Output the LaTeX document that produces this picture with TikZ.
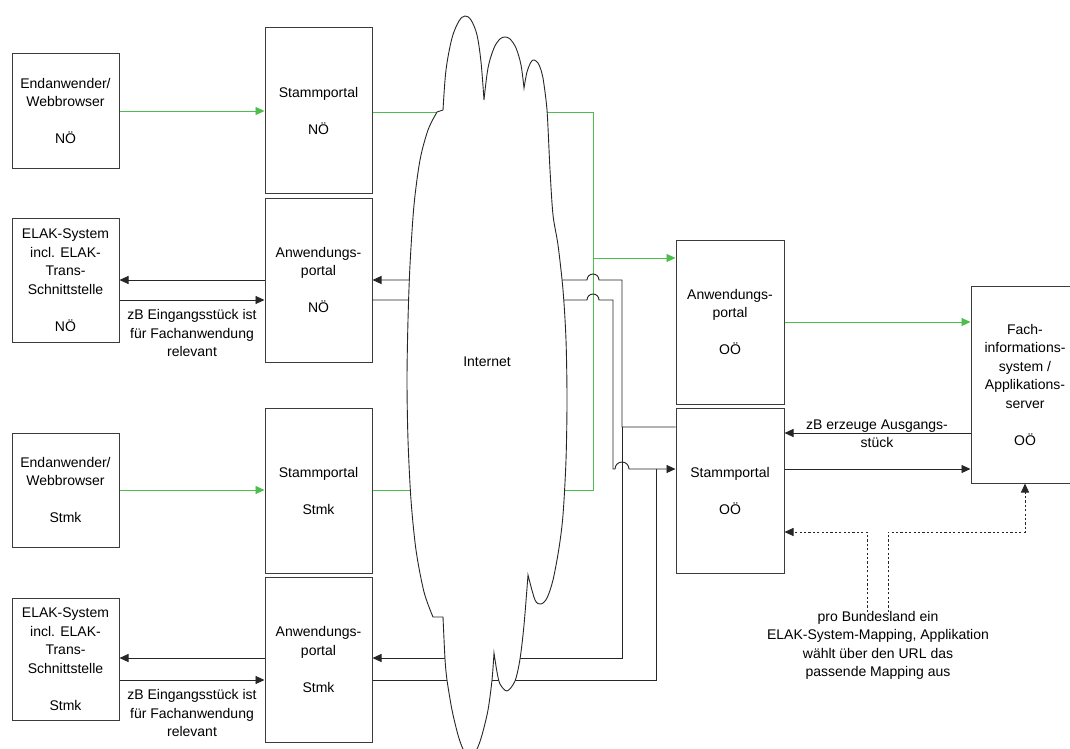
\documentclass[tikz,border=0pt]{standalone}
\usepackage{fontspec}
\setmainfont{Liberation Sans}
\usetikzlibrary{arrows.meta}
\definecolor{grn}{RGB}{76,190,76}
\definecolor{edge}{RGB}{60,60,60}
\tikzset{
  box/.style={draw=edge, line width=1pt, rectangle, inner sep=0pt, minimum width=107pt, align=center,
    font=\fontsize{14}{18.5}\selectfont},
  lbl/.style={inner sep=0pt, align=center, font=\fontsize{14}{18.5}\selectfont},
  blk/.style={draw=black!85, line width=0.9pt},
  gline/.style={draw=grn, line width=0.9pt},
  tip/.style={-{Triangle[length=9pt,width=8pt]}},
  dsh/.style={draw=black!85, line width=0.9pt, dash pattern=on 2.2pt off 2.2pt},
}
\begin{document}
\begin{tikzpicture}[x=1pt,y=-1pt]
\useasboundingbox (0,0) rectangle (1070,749);
\clip (0,0) rectangle (1070,749);
\fill[white] (0,0) rectangle (1070,749);

% left column boxes
\node[box, minimum height=114pt] (eNO) at (65.5,111) {Endanwender/\\Webbrowser\\[18.5pt]NÖ};
\node[box, minimum height=165pt] (sNO) at (318.5,110.5) {Stammportal\\[18.5pt]NÖ};
\node[box, minimum height=164pt] (aNO) at (318.5,280) {Anwendungs-\\portal\\[18.5pt]NÖ};
\node[box, minimum height=124pt] (elNO) at (65.5,280) {ELAK-System\\incl. ELAK-\\Trans-\\Schnittstelle\\[18.5pt]NÖ};

\node[box, minimum height=114pt] (eST) at (65.5,490) {Endanwender/\\Webbrowser\\[18.5pt]Stmk};
\node[box, minimum height=165pt] (sST) at (318.5,490.5) {Stammportal\\[18.5pt]Stmk};
\node[box, minimum height=165pt] (aST) at (318.5,659.5) {Anwendungs-\\portal\\[18.5pt]Stmk};
\node[box, minimum height=122pt] (elST) at (65.5,659) {ELAK-System\\incl. ELAK-\\Trans-\\Schnittstelle\\[18.5pt]Stmk};

% right boxes
\node[box, minimum width=108pt, minimum height=164pt] (aOO) at (730,322) {Anwendungs-\\portal\\[18.5pt]OÖ};
\node[box, minimum width=108pt, minimum height=165pt] (sOO) at (730,490.5) {Stammportal\\[18.5pt]OÖ};
\node[box, minimum width=108pt, minimum height=197pt] (fach) at (1025,384.5) {Fach-\\informations-\\system /\\Applikations-\\server\\[18.5pt]OÖ};

% labels
\node[lbl] (lab1) at (192,333) {zB Eingangsstück ist\\für Fachanwendung\\relevant};
\node[lbl] (lab2) at (192,713) {zB Eingangsstück ist\\für Fachanwendung\\relevant};
\node[lbl] (lab3) at (877,433.5) {zB erzeuge Ausgangs-\\stück};
\node[lbl] (lab4) at (878,645.5) {pro Bundesland ein\\ELAK-System-Mapping, Applikation\\wählt über den URL das\\passende Mapping aus};

% local green arrows
\draw[gline,tip] (eNO.east) -- (sNO.west |- eNO.east);
\draw[gline,tip] (eST.east) -- (sST.west |- eST.east);

% local black arrows
\draw[blk,tip] (aNO.west |- 0,280) -- (elNO.east |- 0,280);
\draw[blk,tip] (elNO.east |- 0,300) -- (aNO.west |- 0,300);
\draw[blk,tip] (aST.west |- 0,658) -- (elST.east |- 0,658);
\draw[blk,tip] (elST.east |- 0,680) -- (aST.west |- 0,680);

% green links across internet
\coordinate (gj) at (593,258);
\draw[gline] (sNO.east |- 0,112) -- (593,112) -- (gj);
\draw[gline] (sST.east |- 0,490) -- (593,490) -- (gj);
\draw[gline,tip] (gj) -- (aOO.west |- gj);
\draw[gline,tip] (aOO.east) -- (fach.west |- aOO.east);

% black links across internet
\coordinate (j1) at (622,427);
\draw[blk,tip] (sOO.west |- j1) -- (j1) -- (622,280) -- (599,280)
  arc[start angle=0,end angle=180,radius=6pt] -- (aNO.east |- 0,280);
\draw[blk,tip] (j1) -- (622,658) -- (aST.east |- 0,658);
\coordinate (j2) at (656,469);
\draw[blk,tip] (aNO.east |- 0,300) -- (587,300)
  arc[start angle=180,end angle=0,radius=6pt] -- (613,300) -- (613,469) -- (615,469)
  arc[start angle=180,end angle=0,radius=7pt] -- (sOO.west |- j2);
\draw[blk] (aST.east |- 0,680) -- (656,680) -- (j2);

% between Stammportal OOe and Fachsystem
\draw[blk,tip] (fach.west |- 0,433) -- (sOO.east |- 0,433);
\draw[blk,tip] (sOO.east |- 0,469) -- (fach.west |- 0,469);

% dashed mapping arrows
\coordinate (m1) at (867,612);
\coordinate (m2) at (888,612);
\draw[dsh,tip] (m1) -- (867,532) -- (sOO.east |- 0,532);
\draw[dsh,tip] (m2) -- (888,532) -- (1025,532) -- (fach.south);

% cloud
\draw[fill=white, draw=black!85, line width=0.9pt]
  plot[smooth,tension=0.55] coordinates {(443,110) (446,70) (452,38) (459,21) (465,16) (471,20) (477,35) (481,62) (484,100)}
  -- plot[smooth,tension=0.55] coordinates {(484,100) (488,68) (494,48) (500,39) (505,37) (510,39) (516,48) (521,65) (524,88)}
  -- plot[smooth,tension=0.55] coordinates {(524,88) (527,72) (531,62) (534,60) (538,63) (541,70) (543,78)}
  -- plot[smooth,tension=0.5] coordinates {(543,78) (547,110) (550,170) (553,215) (558,245) (563,290) (566,340) (567,400) (566,460) (563,515) (559,548) (553,580) (547,598) (541,604) (535,600) (528,575)}
  -- plot[smooth,tension=0.5] coordinates {(528,575) (524,625) (520,659) (515,681) (507,691) (500,684) (497,672) (494,653)}
  -- plot[smooth,tension=0.5] coordinates {(494,653) (492,680) (488,710) (482,735) (477,749) (470,760) (463,749) (458,735) (452,710) (447,680) (445,659) (443,617)}
  -- (433,617)
  -- plot[smooth,tension=0.5] coordinates {(433,617) (424,592) (416,550) (411,500) (408,440) (407,380) (408,320) (410,265) (414,205) (420,160) (428,130) (437,112)}
  -- cycle;
\node[lbl] (inet) at (487,362) {Internet};
\end{tikzpicture}
\end{document}
